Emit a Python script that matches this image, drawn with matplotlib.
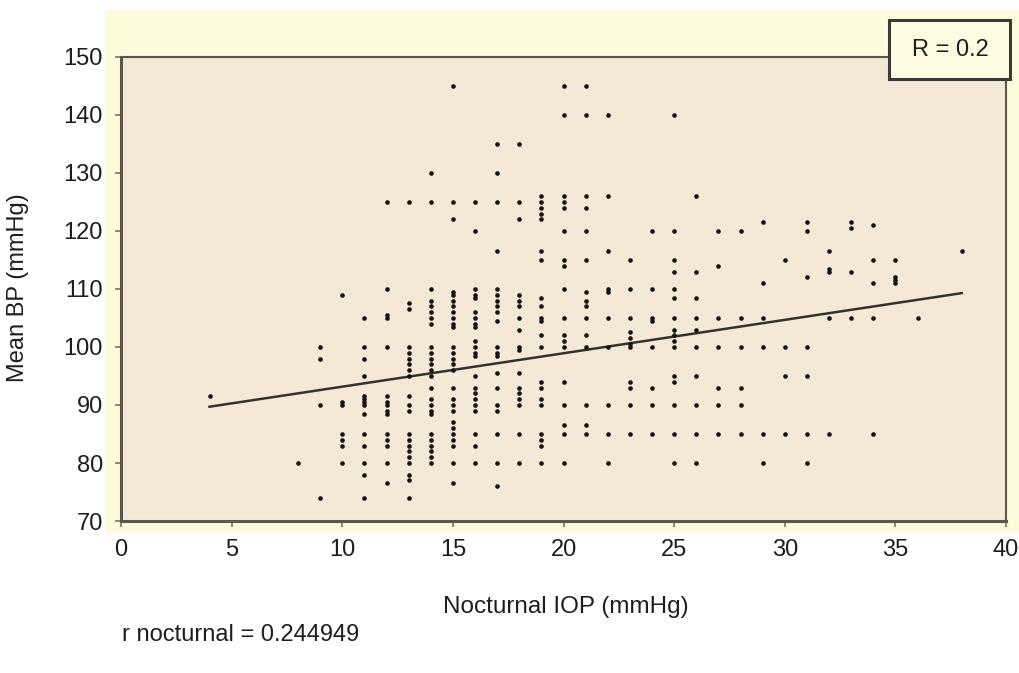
import matplotlib.pyplot as plt
from matplotlib.patches import Rectangle

plt.rcParams['font.family'] = ['Liberation Sans', 'DejaVu Sans']

# nocturnal IOP (mmHg) columns and the mean BP readings stacked at each one
iop_levels = [4, 8, 9, 10, 11, 12, 13, 14, 15, 16, 17, 18, 19, 20, 21, 22,
              23, 24, 25, 26, 27, 28, 29, 30, 31, 32, 33, 34, 35, 36, 38]

bp_by_level = [
    [91.5],
    [80],
    [100, 98, 90, 74],
    [109, 90.5, 90, 85, 84, 83, 80],
    [105, 100, 98, 95, 91.5, 91, 90.5, 90, 88.5, 85, 83, 80, 78, 74],
    [125, 110, 105.5, 105, 100, 91.5, 90.5, 90, 89, 88.5, 85, 84, 83, 80, 76.5],
    [125, 107.5, 106.5, 100, 99, 98, 97, 96, 95, 91.5, 90, 89, 85, 84, 83,
     82, 81, 80, 78, 77, 74],
    [130, 125, 110, 108, 107, 106, 105, 104, 100, 99, 98, 97, 96, 95, 93, 91,
     90, 89, 88.5, 85, 84, 83, 82, 81, 80],
    [145, 125, 122, 109.5, 109, 108, 107, 106, 105, 104, 103.5, 100, 99, 98,
     97, 96, 93, 91, 90, 89, 87, 86, 85, 84, 83, 80, 76.5],
    [125, 120, 110, 109, 108.5, 106, 105, 104, 103.5, 101, 100, 99, 98.5, 95,
     93, 92, 91, 90, 89, 85, 83, 80],
    [135, 130, 125, 116.5, 110, 109, 108, 107, 106, 104.5, 100, 99, 98.5,
     95.5, 93, 90, 89, 85, 80, 76],
    [135, 125, 122, 109, 108, 107, 105, 103, 100, 99.5, 95.5, 93, 92, 91, 90,
     85, 80],
    [126, 125, 124, 123, 122, 116.5, 115, 108.5, 107, 105, 104.5, 102, 100,
     94, 93, 91, 90, 85, 84, 83, 80],
    [145, 140, 126, 125, 124, 120, 115, 114, 110, 105, 102, 101, 100, 94, 90,
     86.5, 85, 80],
    [145, 140, 126, 124, 120, 115, 109.5, 108, 107, 105, 102, 100, 90, 86.5, 85],
    [140, 126, 116.5, 110, 109.5, 105, 100, 90, 85, 80],
    [115, 110, 105, 102.5, 101.5, 100.5, 100, 94, 93, 90, 85],
    [120, 110, 105, 104.5, 100, 93, 90, 85],
    [140, 120, 115, 113, 110, 108.5, 105, 103, 102, 101, 100, 95, 94, 90, 85, 80],
    [126, 113, 108.5, 105, 103, 100, 95, 90, 85, 80],
    [120, 114, 105, 100, 93, 90, 85],
    [120, 105, 100, 93, 90, 85],
    [121.5, 111, 105, 100, 85, 80],
    [115, 100, 95, 85],
    [121.5, 120, 112, 100, 95, 85, 80],
    [116.5, 113.5, 113, 105, 85],
    [121.5, 120.5, 113, 105],
    [121, 115, 111, 105, 85],
    [115, 112, 111.5, 111],
    [105],
    [116.5],
]

# fitted line
fit_intercept = 87.4
fit_slope = 0.576
fit_range = [4, 38]

x_ticks = [0, 5, 10, 15, 20, 25, 30, 35, 40]
y_ticks = [70, 80, 90, 100, 110, 120, 130, 140, 150]

iop = []
bp = []
for level, values in zip(iop_levels, bp_by_level):
    for v in values:
        iop.append(level)
        bp.append(v)

W, H = 1019, 673
fig = plt.figure(figsize=(W / 100, H / 100), dpi=100)
fig.patch.set_facecolor('white')

# scanned panel background
fig.patches.append(Rectangle((105 / W, 1 - 533 / H), 1 - 105 / W, (533 - 10) / H,
                             transform=fig.transFigure, facecolor='#fefadc',
                             edgecolor='none', zorder=-1))

ax = fig.add_axes([121 / W, 1 - 521 / H, (1006 - 121) / W, (521 - 57) / H])
ax.set_zorder(1)
ax.set_facecolor('#f4e9d6')

ax.scatter(iop, bp, marker='o', s=11, color='#141414', linewidths=0, zorder=3)

fit_y = [fit_intercept + fit_slope * x for x in fit_range]
ax.plot(fit_range, fit_y, color='#35312b', linewidth=1.8, zorder=2)

ax.set_xlim(0, 40)
ax.set_ylim(70, 150)
ax.set_xticks(x_ticks)
ax.set_yticks(y_ticks)

for spine in ax.spines.values():
    spine.set_color('#5e564c')
    spine.set_linewidth(1.5)
ax.spines['left'].set_linewidth(2.2)
ax.spines['bottom'].set_linewidth(2.2)
ax.tick_params(direction='out', length=4, width=1.2, color='#7a7064',
               labelsize=17, labelcolor='#1e1e1e', pad=9)

fig.text(18 / W, 1 - 288 / H, 'Mean BP (mmHg)', rotation=90, ha='center',
         va='center', fontsize=17, color='#1e1e1e')
fig.text(566 / W, 1 - 607 / H, 'Nocturnal IOP (mmHg)', ha='center',
         va='center', fontsize=17.5, color='#1e1e1e')
fig.text(122 / W, 1 - 635 / H, 'r nocturnal = 0.244949', ha='left',
         va='center', fontsize=17, color='#1e1e1e')

# R box
box = Rectangle((889 / W, 1 - 79 / H), (1010 - 889) / W, (79 - 20) / H,
                transform=fig.transFigure, facecolor='#fefbe2',
                edgecolor='#3c3a36', linewidth=2.2, zorder=5)
fig.patches.append(box)
fig.text(950 / W, 1 - 50 / H, 'R = 0.2', ha='center', va='center',
         fontsize=17, color='#1e1e1e', zorder=6)

fig.savefig('out.png', dpi=100)
